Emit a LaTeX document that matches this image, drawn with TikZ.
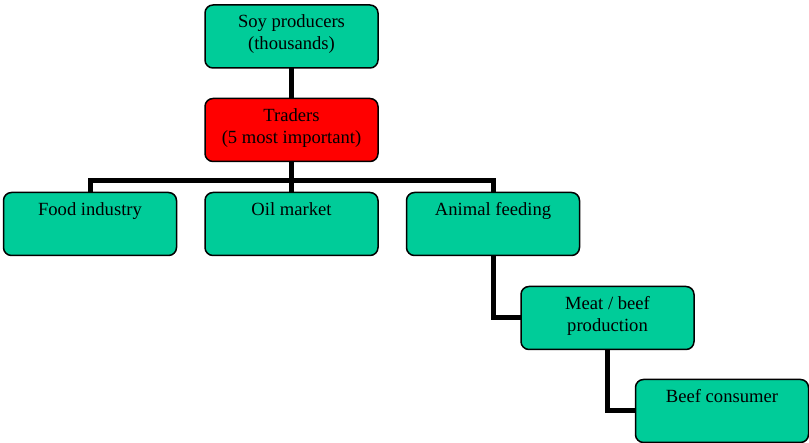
\documentclass[tikz,border=0pt]{standalone}
\usepackage{fontspec}
\setmainfont{Liberation Serif}
\begin{document}
\begin{tikzpicture}[x=1pt,y=-1pt,
  box/.style={draw=black, line width=1.5pt, rounded corners=8pt, minimum width=173pt, minimum height=63pt, inner sep=0pt},
  greenbox/.style={box, fill=boxgreen},
  redbox/.style={box, fill=red},
  lbl/.style={anchor=north, inner sep=0pt, align=center, font=\fontsize{18.6}{22}\selectfont, yshift=-10.5pt},
  conn/.style={draw=black, line width=5pt, line join=miter}]
\definecolor{boxgreen}{HTML}{00CC99}
\useasboundingbox (0,0) rectangle (809,443);
% box positions
\coordinate (psoy) at (291.5,36.5);
\coordinate (ptr) at (291.5,130);
\coordinate (pfood) at (90,224);
\coordinate (poil) at (291.5,224);
\coordinate (panim) at (493,224);
\coordinate (pmeat) at (607.5,318);
\coordinate (pbeef) at (722,411);
\coordinate (bar) at (291.5,181);
% connectors
\draw[conn] (psoy) -- (ptr);
\draw[conn] (ptr) -- (bar);
\draw[conn] (pfood) |- (bar) -| (panim);
\draw[conn] (bar) -- (poil);
\draw[conn] (panim) |- (pmeat);
\draw[conn] (pmeat) |- (pbeef);
% boxes
\node[greenbox] (soy) at (psoy) {};
\node[redbox] (traders) at (ptr) {};
\node[greenbox] (food) at (pfood) {};
\node[greenbox] (oil) at (poil) {};
\node[greenbox] (animal) at (panim) {};
\node[greenbox] (meat) at (pmeat) {};
\node[greenbox] (beef) at (pbeef) {};
% labels
\node[lbl] (tsoy) at (soy.north) {Soy producers\\(thousands)};
\node[lbl] (ttr) at (traders.north) {Traders\\(5 most important)};
\node[lbl] (tfood) at (food.north) {Food industry};
\node[lbl] (toil) at (oil.north) {Oil market};
\node[lbl] (tanim) at (animal.north) {Animal feeding};
\node[lbl] (tmeat) at (meat.north) {Meat / beef\\production};
\node[lbl] (tbeef) at (beef.north) {Beef consumer};
\end{tikzpicture}
\end{document}
